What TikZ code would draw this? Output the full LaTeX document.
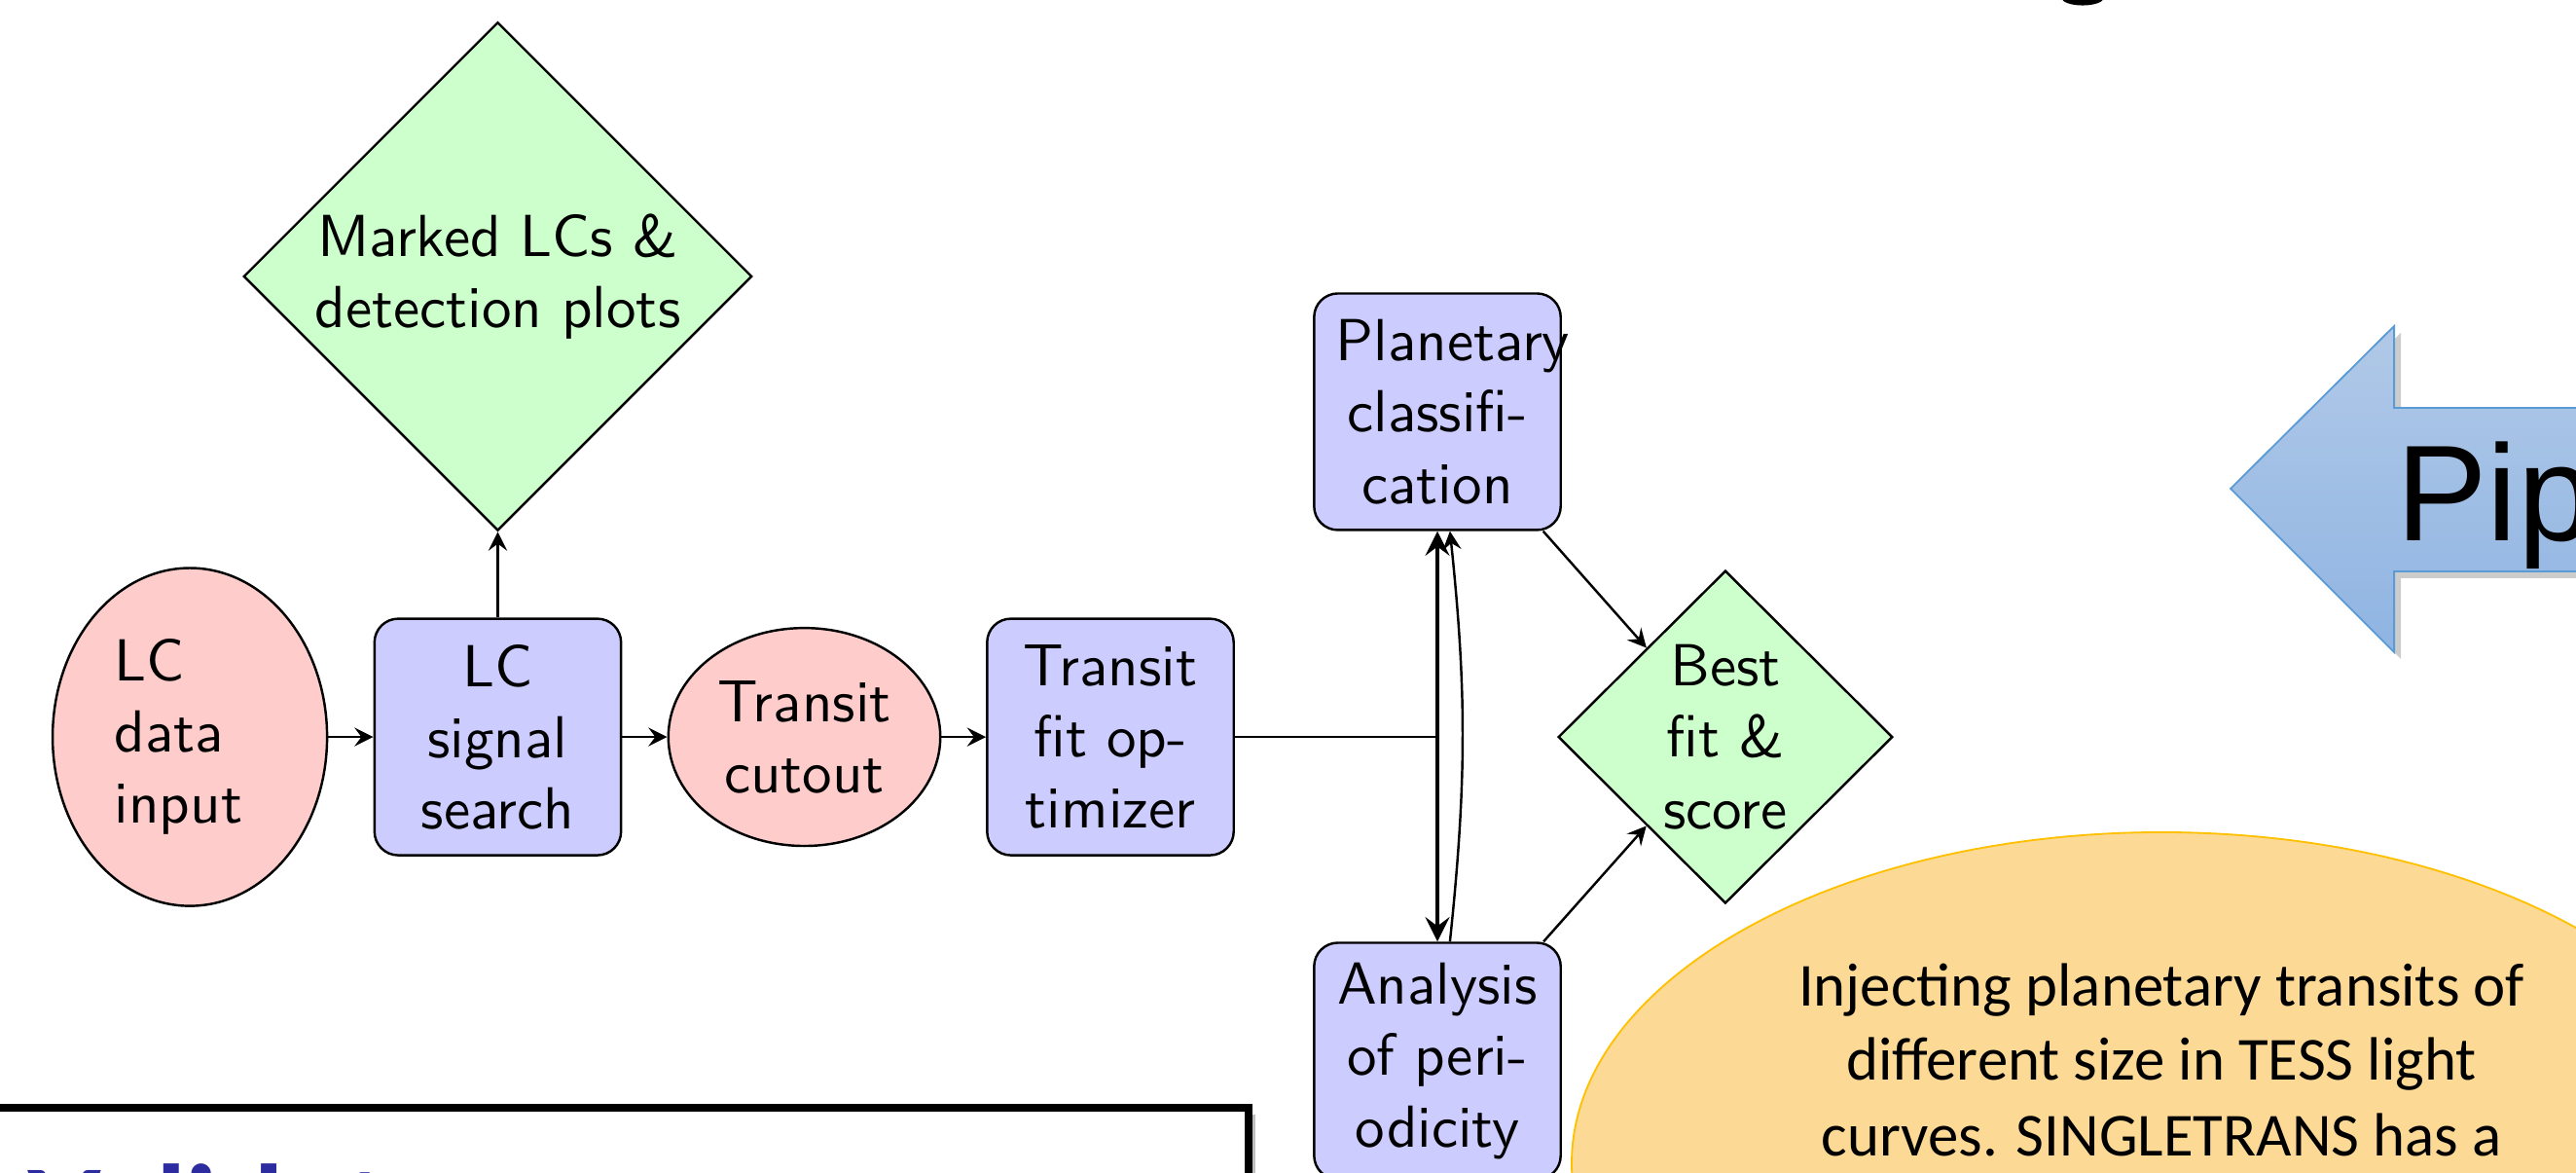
\documentclass[tikz,border=0pt]{standalone}
\usepackage{fontspec}
\usepackage{tikz}
\usetikzlibrary{shapes.geometric,arrows}
\newfontfamily\calibrifont{Carlito}
\newfontfamily\arialfont{Liberation Sans}

\definecolor{calloutfill}{RGB}{253,217,150}
\definecolor{calloutline}{RGB}{255,192,0}
\definecolor{arrowtop}{RGB}{177,201,232}
\definecolor{arrowbottom}{RGB}{143,180,226}
\definecolor{arrowline}{RGB}{91,155,213}
\definecolor{validblue}{RGB}{44,44,160}

\begin{document}
\begin{tikzpicture}[
    font=\sffamily,
    >=stealth,
    procbox/.style={rectangle, rounded corners, draw, fill=blue!20, minimum width=1.46cm, minimum height=1.4cm, text width=1.2cm, align=center},
    databubble/.style={ellipse, draw, fill=red!20, inner sep=0pt},
    outdiamond/.style={diamond, draw, fill=green!20, align=center, inner sep=0pt},
    arrow/.style={->}
]
    \useasboundingbox (0,0) rectangle (15.251,6.937);
    \clip (0,0) rectangle (15.251,6.937);

    % Poster around the chart
    \fill (12.33,6.95) ellipse [x radius=0.125, y radius=0.045];
    \fill[gray, opacity=0.4] (13.246,4.005) -- (14.214,4.967) -- (14.214,4.483) -- (15.44,4.483)
        -- (15.44,3.515) -- (14.214,3.515) -- (14.214,3.037) -- cycle;
    \draw[arrowline, line width=0.3pt, top color=arrowtop, bottom color=arrowbottom]
        (13.206,4.045) -- (14.174,5.007) -- (14.174,4.523) -- (15.4,4.523)
        -- (15.4,3.555) -- (14.174,3.555) -- (14.174,3.077) -- cycle;
    \node[anchor=base west, inner sep=0pt, font=\arialfont\fontsize{23}{27}\selectfont] (pipe) at (14.18,3.734) {Pip};

    \draw[calloutline, fill=calloutfill, line width=0.3pt] (12.797,0.052) ellipse [x radius=3.492, y radius=1.959];
    \node[anchor=base, inner sep=0pt, font=\calibrifont\fontsize{10.3}{12.6}\selectfont] (inj1) at (12.797,0.985) {Injecting planetary transits of};
    \node[anchor=base, inner sep=0pt, font=\calibrifont\fontsize{10.3}{12.6}\selectfont] (inj2) at (12.797,0.542) {different size in TESS light};
    \node[anchor=base, inner sep=0pt, font=\calibrifont\fontsize{10.3}{12.6}\selectfont] (inj3) at (12.797,0.098) {curves. SINGLETRANS has a};

    \fill[gray!50] (-0.16,-0.24) rectangle (7.432,0.34);
    \draw[line width=1.3pt, fill=white] (-0.2,-0.2) rectangle (7.392,0.380);
    \node[anchor=base west, inner sep=0pt, text=validblue, font=\calibrifont\bfseries\fontsize{21}{25}\selectfont] (valid) at (0.156,-0.47) {Validat};

    % Main row
    \node[databubble, align=left, text width=0.89cm, minimum width=1.625cm, minimum height=2cm] (input) at (1.124,2.575) {LC\\data\\input};
    \node[procbox] (search) at (2.947,2.575) {LC\\signal\\search};
    \node[databubble, align=center, minimum width=1.61cm, minimum height=1.29cm] (cutout) at (4.762,2.575) {Transit\\cutout};
    \node[procbox] (fit) at (6.574,2.575) {Transit\\fit op-\\timizer};

    % Outputs
    \node[outdiamond, minimum width=3.01cm, minimum height=3.01cm] (marked) at (2.947,5.301) {Marked LCs \&\\detection plots};
    \node[outdiamond, minimum width=1.98cm, minimum height=1.97cm] (best) at (10.215,2.575) {Best\\fit \&\\score};

    % Classification and periodicity
    \node[procbox] (planetary) at (8.510,4.500) {Planetary\\classifi-\\cation};
    \node[procbox] (analysis) at (8.510,0.657) {Analysis\\of peri-\\odicity};

    % Arrows
    \draw[arrow] (input) -- (search);
    \draw[arrow] (search) -- (cutout);
    \draw[arrow] (cutout) -- (fit);
    \draw[arrow] (search) -- (marked);
    \coordinate (split) at (fit -| planetary);
    \draw (fit) -- (split);
    \draw[<->, thick] (planetary) -- (analysis);
    \draw[arrow] (analysis) to[bend right=6] (planetary);
    \draw[arrow] (planetary) -- (best);
    \draw[arrow] (analysis) -- (best);
\end{tikzpicture}
\end{document}
